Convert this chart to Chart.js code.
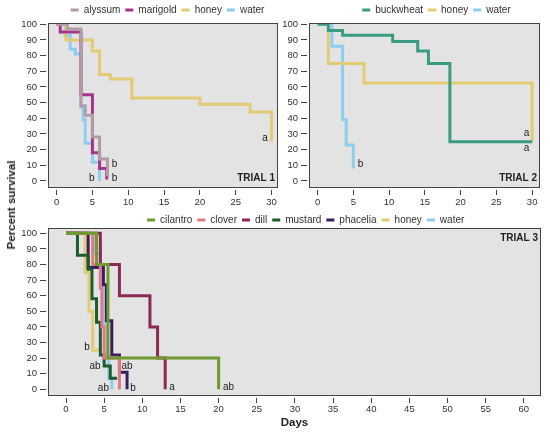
<!DOCTYPE html>
<html>
<head>
<meta charset="utf-8">
<script src="https://cdn.jsdelivr.net/npm/chart.js@4.4.1/dist/chart.umd.min.js"></script>
<style>
  html, body { margin: 0; padding: 0; background: #fff; }
  #wrap { position: relative; width: 550px; height: 434px; overflow: hidden; font-family: "Liberation Sans", Arial, Helvetica, sans-serif; }
  #wrap canvas { position: absolute; }
  #c1 { left: 0; top: 0; }
  #c2 { left: 280px; top: 0; }
  #c3 { left: 0; top: 212px; }
  #ytitle { position: absolute; left: 11px; top: 205px; transform: translate(-50%, -50%) rotate(-90deg);
            font-weight: bold; font-size: 11.5px; color: #222; white-space: nowrap; }
</style>
</head>
<body>
<div id="wrap">
  <canvas id="c1" width="280" height="212"></canvas>
  <canvas id="c2" width="270" height="212"></canvas>
  <canvas id="c3" width="550" height="222"></canvas>
  <div id="ytitle">Percent survival</div>
</div>
<script>
"use strict";

// tick values
const pctTicks = [0, 10, 20, 30, 40, 50, 60, 70, 80, 90, 100];
const dayTicks12 = [0, 5, 10, 15, 20, 25, 30];
const dayTicks3 = [0, 5, 10, 15, 20, 25, 30, 35, 40, 45, 50, 55, 60];

// trial 1  -  [day, % survival] at each step
const t1Alyssum = [[0, 100], [1.5, 97], [3.4, 48], [4, 42], [5, 28], [6, 14], [7.1, 3]];
const t1Marigold = [[0, 100], [0.5, 95], [3.4, 55], [5, 18], [6, 8], [7, 1]];
const t1Honey = [[0, 100], [1.3, 90], [5, 83], [6, 68], [7.5, 65], [10.5, 53], [20, 49], [27, 44], [30, 25]];
const t1Water = [[0, 100], [1.2, 93], [1.9, 84], [2.6, 81], [3.4, 47], [3.7, 39], [4, 24], [5, 12], [6, 0]];
const t1Letters = [[29.1, 27.3, "a"], [8.1, 10.8, "b"], [8.1, 1.9, "b"], [4.9, 1.9, "b"]];

// trial 2
const t2Buckwheat = [[0, 100], [1.5, 96], [3.5, 93], [10.5, 89], [14, 83], [15.5, 75], [18.5, 25], [30, 25]];
const t2Honey = [[0, 100], [1.5, 75], [6.5, 62.5], [30, 25]];
const t2Water = [[0, 100], [2, 86], [3.5, 39], [4, 23], [5, 8]];
const t2Letters = [[29.2, 30.4, "a"], [29.2, 20.9, "a"], [6.0, 10.9, "b"]];

// trial 3
const t3Cilantro = [[0, 100], [4, 80], [5.5, 20], [20, 0]];
const t3Clover = [[0, 100], [3.5, 80], [4.5, 65], [4.7, 40], [5, 20], [7, 0]];
const t3Dill = [[0, 100], [4.5, 80], [7, 60], [11, 40], [12, 20], [13, 0]];
const t3Mustard = [[0, 100], [1.5, 86], [2.9, 77], [3.4, 58], [4, 43], [4.5, 22], [5, 15], [5.8, 7], [6.7, 7]];
const t3Phacelia = [[0, 100], [2.9, 78], [4.9, 67], [5.3, 44], [6, 22], [7, 11], [8, 0]];
const t3Honey = [[0, 100], [2.5, 75], [3, 50], [3.5, 25], [4.4, 25]];
const t3Water = [[0, 100], [3.7, 87], [4.5, 67], [5, 41], [5.4, 20], [5.6, 7], [6, 0]];
const t3Letters = [[2.75, 27, "b"], [3.8, 15, "ab"], [8.0, 15, "ab"], [4.9, 0.8, "ab"], [8.8, 0.8, "b"], [13.9, 1.4, "a"], [21.3, 1.4, "ab"]];

const colors = {
  alyssum: "#b29ba8", marigold: "#a7348c", honey: "#e3cb74", water: "#8fcdef",
  buckwheat: "#3b9b82", cilantro: "#6e9b2f", clover: "#e27987", dill: "#8b2855",
  mustard: "#1d5c2d", phacelia: "#3b1d5e"
};

Chart.defaults.font.family = "'Liberation Sans', Arial, Helvetica, sans-serif";
Chart.defaults.color = "#333";
Chart.defaults.animation = false;

// grey plot box, frame, panel name and letter marks
const panelPlugin = {
  id: "panel",
  beforeDraw(chart) {
    const a = chart.chartArea, ctx = chart.ctx;
    ctx.save();
    ctx.fillStyle = "#e3e3e3";
    ctx.fillRect(a.left, a.top, a.right - a.left, a.bottom - a.top);
    ctx.restore();
  },
  afterDatasetsDraw(chart, args, opts) {
    const a = chart.chartArea, ctx = chart.ctx;
    const xs = chart.scales.x, ys = chart.scales.y;
    ctx.save();
    ctx.strokeStyle = "#444";
    ctx.lineWidth = 1;
    ctx.strokeRect(Math.round(a.left) + 0.5, Math.round(a.top) + 0.5,
      Math.round(a.right - a.left) - 1, Math.round(a.bottom - a.top) - 1);

    ctx.fillStyle = "#222";
    ctx.textAlign = "center";
    ctx.textBaseline = "middle";
    ctx.font = "10px 'Liberation Sans', Arial, sans-serif";
    (opts.letters || []).forEach(([x, y, t]) => {
      ctx.fillText(t, xs.getPixelForValue(x), ys.getPixelForValue(y));
    });

    ctx.textAlign = "right";
    ctx.font = "bold 10px 'Liberation Sans', Arial, sans-serif";
    const ty = opts.titleAtTop ? a.top + 10 : a.bottom - 10;
    ctx.fillText(opts.title, a.right - 3, ty);
    ctx.restore();
  }
};

// move the legend so it sits over the panel like in the figure
const legendShift = {
  id: "legendShift",
  afterLayout(chart, args, opts) {
    const lg = chart.legend;
    if (!lg) return;
    const dx = opts.centerX - (lg.left + lg.right) / 2;
    lg.left += dx;
    lg.right += dx;
    lg.top += opts.dy || 0;
    lg.bottom += opts.dy || 0;
  }
};

function toDataset(name, pts) {
  return {
    label: name,
    data: pts.map(([x, y]) => ({ x, y })),
    borderColor: colors[name],
    backgroundColor: colors[name],
    borderWidth: 3,
    stepped: "before",
    pointRadius: 0,
    fill: false,
    borderJoinStyle: "miter",
    borderCapStyle: "butt"
  };
}

function makeChart(id, cfg) {
  return new Chart(document.getElementById(id), {
    type: "line",
    data: { datasets: cfg.series.map(([n, p]) => toDataset(n, p)) },
    plugins: [panelPlugin, legendShift],
    options: {
      responsive: false,
      events: [],
      layout: { padding: { left: 0, right: cfg.padRight, top: 0, bottom: 0 } },
      plugins: {
        tooltip: { enabled: false },
        legend: {
          position: "top",
          maxHeight: cfg.legendHeight,
          labels: {
            usePointStyle: true,
            pointStyle: "line",
            pointStyleWidth: 8,
            padding: 5,
            color: "#333",
            font: { size: 10 }
          }
        },
        panel: { title: cfg.title, titleAtTop: cfg.titleAtTop, letters: cfg.letters },
        legendShift: { centerX: cfg.legendX, dy: cfg.legendDy }
      },
      scales: {
        x: {
          type: "linear",
          min: cfg.xMin,
          max: cfg.xMax,
          afterBuildTicks: s => { s.ticks = cfg.xTicks.map(v => ({ value: v })); },
          afterFit: s => { s.height = cfg.xHeight; },
          border: { display: false },
          grid: { drawOnChartArea: false, color: "#444", tickLength: 7, tickBorderDash: [0, 2, 5, 0] },
          ticks: { autoSkip: false, maxRotation: 0, padding: cfg.xPad, color: "#333", font: { size: 9.5 } },
          title: cfg.xTitle
            ? { display: true, text: cfg.xTitle, color: "#222", font: { size: 11.5, weight: "bold" }, padding: { top: 0, bottom: 4 } }
            : { display: false }
        },
        y: {
          min: cfg.yMin,
          max: cfg.yMax,
          afterBuildTicks: s => { s.ticks = pctTicks.map(v => ({ value: v })); },
          afterFit: s => { s.width = cfg.yWidth; },
          border: { display: false },
          grid: { drawOnChartArea: false, color: "#444", tickLength: 8, tickBorderDash: [6, 2] },
          ticks: { padding: 3, color: "#333", font: { size: 9.5 } }
        }
      }
    }
  });
}

makeChart("c1", {
  series: [["alyssum", t1Alyssum], ["marigold", t1Marigold], ["honey", t1Honey], ["water", t1Water]],
  letters: t1Letters, title: "TRIAL 1", titleAtTop: false,
  xTicks: dayTicks12, xMin: -1.2, xMax: 30.9, yMin: -4.5, yMax: 100.8,
  yWidth: 48, xHeight: 24, xPad: 2, padRight: 2,
  legendHeight: 23, legendX: 167.5, legendDy: 0
});

makeChart("c2", {
  series: [["buckwheat", t2Buckwheat], ["honey", t2Honey], ["water", t2Water]],
  letters: t2Letters, title: "TRIAL 2", titleAtTop: false,
  xTicks: dayTicks12, xMin: -1.2, xMax: 31.1, yMin: -4.5, yMax: 100.8,
  yWidth: 29, xHeight: 24, xPad: 2, padRight: 10,
  legendHeight: 23, legendX: 156.5, legendDy: 0
});

makeChart("c3", {
  series: [["cilantro", t3Cilantro], ["clover", t3Clover], ["dill", t3Dill], ["mustard", t3Mustard],
           ["phacelia", t3Phacelia], ["honey", t3Honey], ["water", t3Water]],
  letters: t3Letters, title: "TRIAL 3", titleAtTop: true,
  xTicks: dayTicks3, xMin: -2.36, xMax: 62.25, yMin: -4.3, yMax: 103.4,
  yWidth: 48, xHeight: 38, xPad: 1, padRight: 9, xTitle: "Days",
  legendHeight: 16, legendX: 305.7, legendDy: -2
});
</script>
</body>
</html>
